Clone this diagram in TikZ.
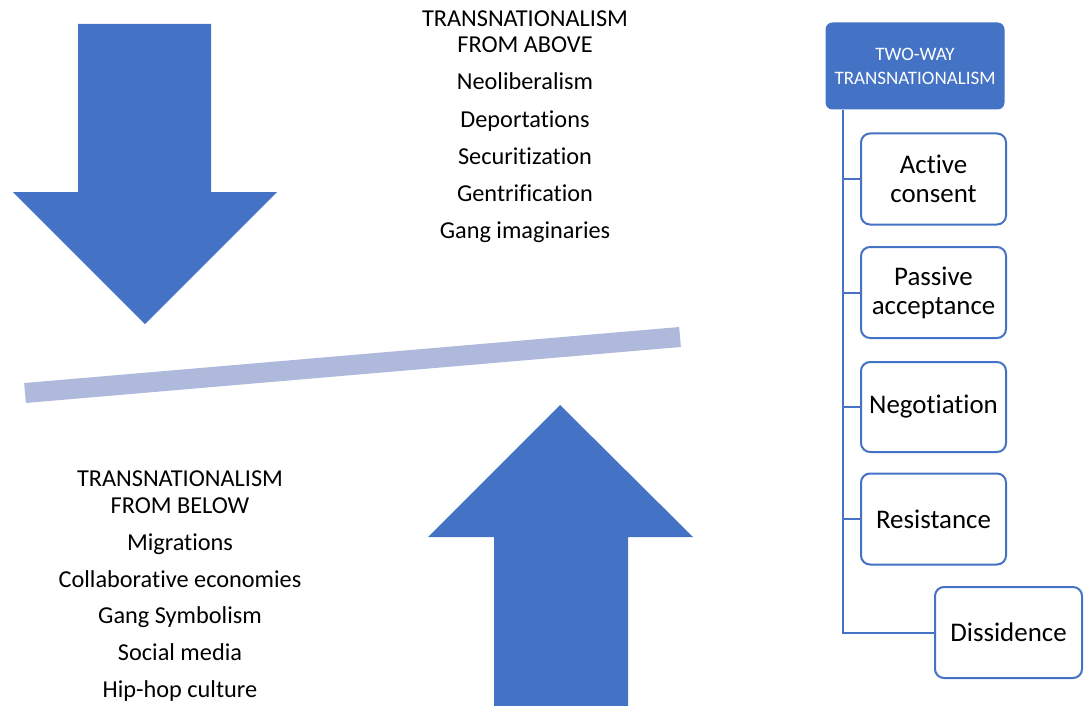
\documentclass[tikz,border=0pt]{standalone}
\usepackage{fontspec}
\setmainfont[Ligatures=NoCommon]{Carlito}
\definecolor{mainblue}{HTML}{4472C4}
\definecolor{barblue}{HTML}{AEB9DB}
\begin{document}
\begin{tikzpicture}[x=1pt,y=-1pt,
  listtext/.style={font=\fontsize{24.3}{28}\selectfont, anchor=base, inner sep=0pt},
  itembox/.style={draw=mainblue, line width=2pt, rounded corners=9pt, fill=white,
     align=center, font=\fontsize{26.9}{29}\selectfont, inner sep=0pt},
  headbox/.style={fill=mainblue, rounded corners=7pt, text=white, align=center,
     font=\fontsize{19}{24}\selectfont, inner sep=0pt},
  conn/.style={draw=mainblue, line width=2pt}]
\useasboundingbox (0,0) rectangle (1089,706);
% down arrow
\fill[mainblue] (78,24) -- (211,24) -- (211,192) -- (277,192) -- (145,324) -- (13,192) -- (78,192) -- cycle;
% up arrow
\fill[mainblue] (560,405) -- (693,537) -- (628,537) -- (628,706) -- (494,706) -- (494,537) -- (428,537) -- cycle;
% bar
\draw[barblue, line width=20pt] (25,393) -- (680,337);
% top text
\node[listtext] (ta1) at (525,27) {TRANSNATIONALISM};
\node[listtext] (ta2) at (525,53) {FROM ABOVE};
\node[listtext] (ta3) at (525,90) {Neoliberalism};
\node[listtext] (ta4) at (525,127.5) {Deportations};
\node[listtext] (ta5) at (525,164.5) {Securitization};
\node[listtext] (ta6) at (525,201.5) {Gentrification};
\node[listtext] (ta7) at (525,238.5) {Gang imaginaries};
% bottom text
\node[listtext] (tb1) at (180,486.5) {TRANSNATIONALISM};
\node[listtext] (tb2) at (180,513) {FROM BELOW};
\node[listtext] (tb3) at (180,550) {Migrations};
\node[listtext] (tb4) at (180,587) {Collaborative economies};
\node[listtext] (tb5) at (180,623.5) {Gang Symbolism};
\node[listtext] (tb6) at (180,660.5) {Social media};
\node[listtext] (tb7) at (180,697) {Hip-hop culture};
% right panel
\node[headbox, minimum width=179pt, minimum height=87pt] (head) at (915,66) {TWO-WAY\\TRANSNATIONALISM};
\node[itembox, minimum width=145pt, minimum height=91pt] (b1) at (933.5,179) {Active\\consent};
\node[itembox, minimum width=145pt, minimum height=91pt] (b2) at (933.5,292.5) {Passive\\acceptance};
\node[itembox, minimum width=145pt, minimum height=90pt] (b3) at (933.5,407) {Negotiation};
\node[itembox, minimum width=145pt, minimum height=91pt] (b4) at (933.5,519) {Resistance};
\node[itembox, minimum width=147pt, minimum height=91pt] (b5) at (1008.5,632.5) {Dissidence};
\draw[conn] (843,0 |- head.south) -- (843,0 |- b5.west) -- (b5.west);
\draw[conn] (843,0 |- b1.west) -- (b1.west);
\draw[conn] (843,0 |- b2.west) -- (b2.west);
\draw[conn] (843,0 |- b3.west) -- (b3.west);
\draw[conn] (843,0 |- b4.west) -- (b4.west);
\end{tikzpicture}
\end{document}
